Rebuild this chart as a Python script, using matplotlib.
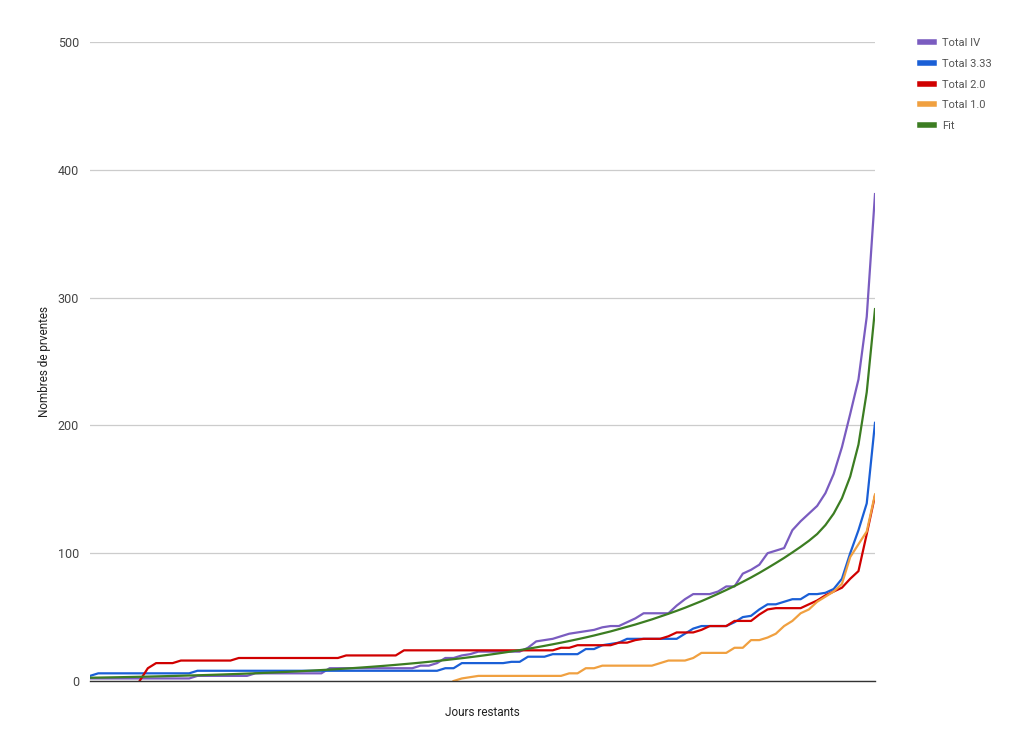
import numpy as np
import matplotlib
matplotlib.use("Agg")
import matplotlib.pyplot as plt

plt.rcParams["font.family"] = ["Roboto", "DejaVu Sans"]

nan = float("nan")

# one point per day, 96 days
total_iv = [2] * 13 + [4] * 7 + [6] * 9 + [10] * 11 + [
    12, 12, 14, 18, 18, 20, 21, 23, 23, 23, 23, 23, 23,
    26, 31, 32, 33, 35, 37, 38, 39, 40, 42, 43, 43, 46, 49,
    53, 53, 53, 53, 59, 64, 68, 68, 68, 70, 74, 74, 84, 87,
    91, 100, 102, 104, 118, 125, 131, 137, 147, 162, 183, 209,
    236, 285, 381,
]
total_333 = [4] + [6] * 12 + [8] * 30 + [10, 10] + [14] * 6 + [
    15, 15, 19, 19, 19, 21, 21, 21, 21, 25, 25, 28, 29, 30,
    33, 33, 33, 33, 33, 33, 33, 37, 41, 43, 43, 43, 43, 46,
    50, 51, 56, 60, 60, 62, 64, 64, 68, 68, 69, 72, 80, 100,
    118, 139, 202,
]
total_20 = [nan] * 6 + [0, 10, 14, 14, 14] + [16] * 7 + [18] * 13 + [20] * 7 + [24] * 19 + [
    26, 26, 28, 28, 28, 28, 28, 30, 30, 32, 33, 33, 33, 35,
    38, 38, 38, 40, 43, 43, 43, 47, 47, 47, 52, 56, 57, 57,
    57, 57, 60, 63, 67, 70, 73, 80, 86, 115, 145,
]
total_10 = [nan] * 44 + [0, 2, 3] + [4] * 11 + [
    6, 6, 10, 10, 12, 12, 12, 12, 12, 12, 12, 14, 16, 16, 16,
    18, 22, 22, 22, 22, 26, 26, 32, 32, 34, 37, 43, 47, 53,
    56, 62, 66, 70, 76, 97, 107, 117, 146,
]
fit = [
    2.55, 2.66, 2.78, 2.90, 3.03, 3.17, 3.31, 3.45, 3.61, 3.77,
    3.93, 4.10, 4.29, 4.48, 4.67, 4.88, 5.10, 5.32, 5.56, 5.80,
    6.05, 6.32, 6.60, 6.89, 7.20, 7.52, 7.85, 8.20, 8.56, 8.94,
    9.33, 9.74, 10.17, 10.62, 11.09, 11.58, 12.09, 12.63, 13.19, 13.77,
    14.37, 15.01, 15.67, 16.36, 17.09, 17.84, 18.63, 19.45, 20.31, 21.21,
    22.15, 23.13, 24.15, 25.22, 26.33, 27.49, 28.71, 29.98, 31.30, 32.68,
    34.1, 35.6, 37.2, 38.8, 40.6, 42.4, 44.2, 46.2, 48.2, 50.4,
    52.6, 54.9, 57.3, 59.9, 62.5, 65.3, 68.2, 71.2, 74.3, 77.6,
    81.0, 84.6, 88.4, 92.3, 96.3, 100.6, 105.0, 109.7, 115, 122,
    131, 143, 160, 185, 226, 291,
]

series = [
    ("Total IV", total_iv, "#7a5cc0"),
    ("Total 3.33", total_333, "#1a5fd6"),
    ("Total 2.0", total_20, "#d00000"),
    ("Total 1.0", total_10, "#f0a040"),
    ("Fit", fit, "#3c7d22"),
]
y_ticks = [0, 100, 200, 300, 400, 500]


def main() -> None:
    fig = plt.figure(figsize=(10.24, 7.38), dpi=100)
    ax = fig.add_axes([90 / 1024, 1 - 681 / 738, 785 / 1024, 639 / 738])

    handles = []
    for name, values, color in series:
        x = np.arange(len(values))
        (ln,) = ax.plot(x, values, color=color, lw=1.6, label=name,
                        solid_joinstyle="round")
        handles.append(ln)

    ax.set_xlim(0, len(fit) - 1)
    ax.set_ylim(0, 500)
    ax.set_yticks(y_ticks)
    ax.set_xticks([])
    ax.grid(axis="y", color="#cccccc", lw=0.9)
    ax.set_axisbelow(True)
    for side in ("top", "right", "left"):
        ax.spines[side].set_visible(False)
    ax.spines["bottom"].set_color("#333333")
    ax.spines["bottom"].set_linewidth(1.0)
    ax.tick_params(axis="y", length=0, pad=8, labelsize=9, labelcolor="#444444")

    ax.set_ylabel("Nombres de prventes", fontsize=8.5, color="#222222", labelpad=5)
    ax.set_xlabel("Jours restants", fontsize=8.5, color="#222222", labelpad=18)

    leg = fig.legend(
        handles=handles,
        loc="upper left",
        bbox_to_anchor=(910 / 1024, 1 - 28 / 738),
        frameon=False,
        fontsize=8,
        handlelength=1.26,
        handletextpad=0.7,
        labelspacing=0.97,
    )
    for text in leg.get_texts():
        text.set_color("#555555")
    for line in leg.get_lines():
        line.set_linewidth(4)

    fig.savefig("out.png", dpi=100)


if __name__ == "__main__":
    main()
